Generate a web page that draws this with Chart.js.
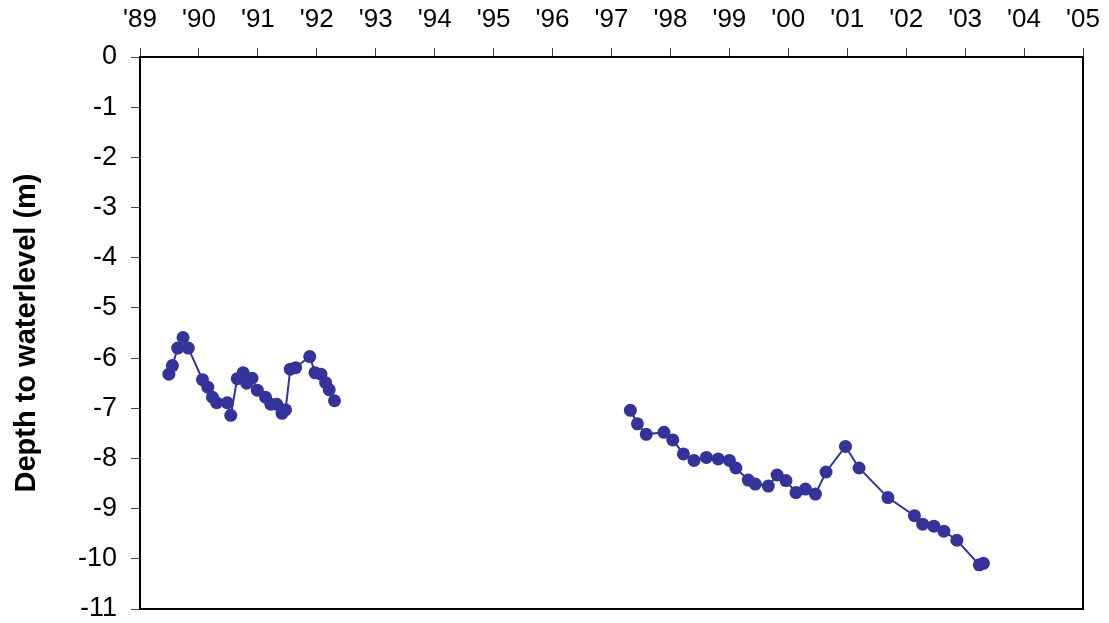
<!DOCTYPE html>
<html>
<head>
<meta charset="utf-8">
<script src="https://cdn.jsdelivr.net/npm/chart.js@4/dist/chart.umd.min.js"></script>
<style>
  html, body { margin: 0; padding: 0; background: #fff; }
  #wrap { width: 1109px; height: 623px; }
</style>
</head>
<body>
<div id="wrap"><canvas id="c" width="1109" height="623"></canvas></div>
<script>
// Observation dates (decimal years) and depth to water level (m)
const period1Dates = [1989.49, 1989.55, 1989.64, 1989.73, 1989.82, 1990.06, 1990.15, 1990.23, 1990.30, 1990.48,
  1990.54, 1990.65, 1990.75, 1990.81, 1990.90, 1990.99, 1991.13, 1991.22, 1991.32, 1991.41,
  1991.47, 1991.55, 1991.64, 1991.88, 1991.97, 1992.07, 1992.15, 1992.21, 1992.30];
const period1Depths = [-6.32, -6.15, -5.80, -5.59, -5.80, -6.43, -6.58, -6.78, -6.89, -6.89,
  -7.14, -6.41, -6.29, -6.50, -6.40, -6.64, -6.78, -6.92, -6.92, -7.10,
  -7.03, -6.22, -6.19, -5.97, -6.29, -6.32, -6.49, -6.63, -6.85];

const period2Dates = [1997.32, 1997.44, 1997.59, 1997.89, 1998.04, 1998.22, 1998.40, 1998.61, 1998.81, 1999.00,
  1999.11, 1999.32, 1999.44, 1999.66, 1999.81, 1999.96, 2000.13, 2000.29, 2000.46, 2000.64,
  2000.97, 2001.20, 2001.69, 2002.14, 2002.28, 2002.47, 2002.64, 2002.86, 2003.24, 2003.31];
const period2Depths = [-7.04, -7.31, -7.52, -7.48, -7.63, -7.91, -8.04, -7.98, -8.01, -8.04,
  -8.19, -8.43, -8.51, -8.55, -8.33, -8.44, -8.68, -8.61, -8.71, -8.27,
  -7.76, -8.19, -8.78, -9.14, -9.31, -9.35, -9.45, -9.63, -10.12, -10.09];

const yearMin = 1989, yearMax = 2005;
const depthMin = -11, depthMax = 0;
const axisLabel = 'Depth to waterlevel (m)';

// Build point list; a null entry breaks the line between the two monitoring periods
const points = [];
period1Dates.forEach((d, i) => points.push({ x: d, y: period1Depths[i] }));
points.push({ x: (period1Dates[period1Dates.length - 1] + period2Dates[0]) / 2, y: null });
period2Dates.forEach((d, i) => points.push({ x: d, y: period2Depths[i] }));

const frameBorder = {
  id: 'frameBorder',
  afterDraw(chart) {
    const { ctx, chartArea: a } = chart;
    ctx.save();
    ctx.strokeStyle = '#000';
    ctx.lineWidth = 2;
    ctx.strokeRect(a.left, a.top, a.right - a.left, a.bottom - a.top);
    ctx.restore();
  }
};

new Chart(document.getElementById('c'), {
  type: 'line',
  data: {
    datasets: [{
      data: points,
      borderColor: '#333399',
      backgroundColor: '#333399',
      pointBackgroundColor: '#333399',
      pointBorderColor: '#333399',
      borderWidth: 2,
      pointRadius: 6.5,
      pointBorderWidth: 0,
      spanGaps: false,
      tension: 0
    }]
  },
  options: {
    responsive: false,
    animation: false,
    layout: { padding: { top: 0, left: 0, right: 26, bottom: 14 } },
    plugins: { legend: { display: false }, tooltip: { enabled: false } },
    scales: {
      x: {
        type: 'linear',
        position: 'top',
        min: yearMin,
        max: yearMax,
        afterFit(s) { s.height = 57; s.paddingLeft = 0; s.paddingRight = 0; },
        ticks: {
          stepSize: 1,
          padding: 13,
          color: '#000',
          font: { family: 'Liberation Sans, Arial, sans-serif', size: 26 },
          maxRotation: 0,
          autoSkip: false,
          callback: v => "'" + String(v).slice(2)
        },
        grid: { drawOnChartArea: false, drawTicks: true, tickLength: 9, color: '#444' },
        border: { display: true, color: '#000', width: 2 }
      },
      y: {
        min: depthMin,
        max: depthMax,
        afterFit(s) { s.width = 140; s.paddingTop = 0; s.paddingBottom = 0; },
        ticks: {
          stepSize: 1,
          padding: 14,
          color: '#000',
          font: { family: 'Liberation Sans, Arial, sans-serif', size: 27 }
        },
        grid: { drawOnChartArea: false, drawTicks: true, tickLength: 9, color: '#444' },
        border: { display: true, color: '#000', width: 2 },
        title: {
          display: true,
          text: axisLabel,
          color: '#000',
          font: { family: 'Liberation Sans, Arial, sans-serif', size: 29, weight: 'bold' },
          padding: { top: 10, bottom: 0 }
        }
      }
    }
  },
  plugins: [frameBorder]
});
</script>
</body>
</html>
